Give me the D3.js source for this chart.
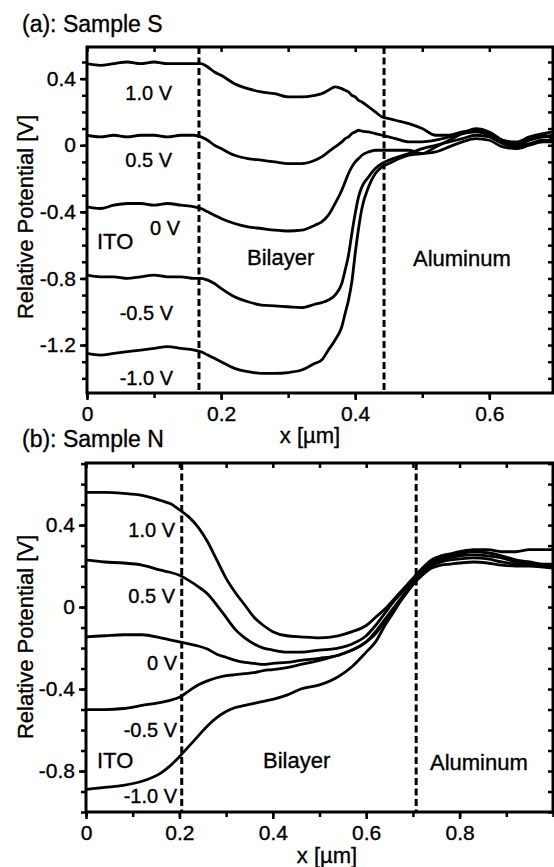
<!DOCTYPE html>
<html>
<head>
<meta charset="utf-8">
<script src="https://cdn.jsdelivr.net/npm/d3@7"></script>
<style>
  body { margin: 0; background: #fff; }
  svg { display: block; font-family: "Liberation Sans", Arial, sans-serif; }
  svg text { fill: #000; stroke: #000; stroke-width: 0.35; }
  .curve { fill: none; stroke: #000; stroke-width: 2.8; stroke-linejoin: round; }
  .divider { stroke: #000; stroke-width: 3; stroke-dasharray: 7,3.5; }
  .frame { fill: none; stroke: #000; stroke-width: 3; }
  .tick line { stroke: #000; stroke-width: 2.5; }
  .tick text { font-size: 21px; }
</style>
</head>
<body>
<svg id="chart" width="554" height="867"></svg>
<script>
// ---- data ----
const voltageLabels = ["1.0 V", "0.5 V", "0 V", "-0.5 V", "-1.0 V"];
const regionLabels = ["ITO", "Bilayer", "Aluminum"];

// (a) Sample S
const xSampleS = [0, 0.02, 0.04, 0.06, 0.08, 0.10, 0.12, 0.14, 0.16, 0.17, 0.18, 0.19, 0.20, 0.22, 0.24, 0.26, 0.28, 0.30, 0.32, 0.34, 0.35, 0.36, 0.37, 0.38, 0.385, 0.39, 0.395, 0.40, 0.405, 0.41, 0.42, 0.43, 0.44, 0.45, 0.46, 0.48, 0.50, 0.52, 0.54, 0.56, 0.58, 0.60, 0.62, 0.64, 0.66, 0.68, 0.695];
const sampleS_p10 = [0.49, 0.48, 0.49, 0.50, 0.49, 0.50, 0.49, 0.49, 0.49, 0.49, 0.47, 0.44, 0.42, 0.37, 0.34, 0.32, 0.31, 0.29, 0.29, 0.30, 0.31, 0.33, 0.35, 0.34, 0.33, 0.32, 0.30, 0.29, 0.27, 0.26, 0.23, 0.20, 0.17, 0.16, 0.15, 0.13, 0.10, 0.06, 0.06, 0.08, 0.09, 0.07, 0.03, 0.02, 0.05, 0.07, 0.08];
const sampleS_p05 = [0.06, 0.05, 0.06, 0.05, 0.06, 0.06, 0.05, 0.06, 0.06, 0.05, 0.03, 0.00, -0.02, -0.06, -0.08, -0.09, -0.10, -0.11, -0.11, -0.09, -0.07, -0.04, -0.01, 0.02, 0.04, 0.05, 0.07, 0.08, 0.09, 0.085, 0.08, 0.07, 0.06, 0.05, 0.04, 0.02, 0.02, 0.03, 0.05, 0.07, 0.08, 0.06, 0.02, 0.00, 0.03, 0.05, 0.06];
const sampleS_0 = [-0.37, -0.38, -0.36, -0.35, -0.35, -0.36, -0.35, -0.36, -0.37, -0.38, -0.40, -0.42, -0.44, -0.47, -0.49, -0.50, -0.51, -0.515, -0.51, -0.48, -0.46, -0.42, -0.35, -0.27, -0.22, -0.17, -0.13, -0.10, -0.08, -0.06, -0.04, -0.03, -0.03, -0.03, -0.03, -0.03, -0.05, -0.01, 0.03, 0.07, 0.10, 0.08, 0.03, 0.01, 0.04, 0.06, 0.04];
const sampleS_m05 = [-0.78, -0.79, -0.79, -0.80, -0.79, -0.78, -0.79, -0.79, -0.80, -0.80, -0.81, -0.83, -0.86, -0.91, -0.94, -0.96, -0.965, -0.97, -0.975, -0.955, -0.945, -0.93, -0.90, -0.83, -0.75, -0.66, -0.53, -0.41, -0.31, -0.25, -0.19, -0.14, -0.11, -0.09, -0.075, -0.05, -0.02, 0.00, 0.02, 0.04, 0.06, 0.05, 0.01, -0.01, 0.01, 0.03, 0.03];
const sampleS_m10 = [-1.25, -1.26, -1.25, -1.24, -1.23, -1.22, -1.21, -1.22, -1.23, -1.24, -1.26, -1.28, -1.30, -1.34, -1.36, -1.37, -1.37, -1.365, -1.35, -1.31, -1.29, -1.23, -1.17, -1.09, -1.01, -0.93, -0.82, -0.65, -0.50, -0.38, -0.25, -0.17, -0.13, -0.11, -0.09, -0.06, -0.05, -0.04, -0.01, 0.02, 0.04, 0.03, -0.01, -0.02, 0.00, 0.02, 0.02];
const xTicksS = [0, 0.2, 0.4, 0.6];
const yTicksS = [0.4, 0, -0.4, -0.8, -1.2];
const boundariesS = [0.167, 0.443];

// (b) Sample N
const xSampleN = [0, 0.04, 0.08, 0.12, 0.16, 0.18, 0.20, 0.22, 0.24, 0.26, 0.28, 0.30, 0.32, 0.34, 0.36, 0.38, 0.40, 0.43, 0.46, 0.50, 0.54, 0.57, 0.60, 0.62, 0.64, 0.66, 0.68, 0.70, 0.72, 0.74, 0.76, 0.78, 0.80, 0.83, 0.86, 0.89, 0.92, 0.95, 0.98, 1.0];
const sampleN_p10 = [0.56, 0.56, 0.555, 0.545, 0.52, 0.505, 0.475, 0.44, 0.39, 0.32, 0.23, 0.14, 0.07, 0.01, -0.05, -0.09, -0.12, -0.14, -0.145, -0.15, -0.14, -0.12, -0.09, -0.05, -0.01, 0.04, 0.09, 0.14, 0.19, 0.23, 0.25, 0.26, 0.27, 0.28, 0.28, 0.27, 0.27, 0.28, 0.28, 0.28];
const sampleN_p05 = [0.23, 0.22, 0.215, 0.205, 0.18, 0.17, 0.155, 0.13, 0.10, 0.065, 0.01, -0.05, -0.11, -0.15, -0.18, -0.20, -0.21, -0.22, -0.22, -0.21, -0.20, -0.18, -0.14, -0.09, -0.03, 0.03, 0.08, 0.13, 0.18, 0.22, 0.24, 0.25, 0.26, 0.27, 0.265, 0.25, 0.23, 0.22, 0.21, 0.21];
const sampleN_0 = [-0.145, -0.14, -0.135, -0.135, -0.15, -0.16, -0.17, -0.18, -0.19, -0.205, -0.23, -0.245, -0.26, -0.27, -0.275, -0.28, -0.275, -0.27, -0.26, -0.25, -0.235, -0.21, -0.17, -0.12, -0.06, 0.00, 0.06, 0.12, 0.17, 0.21, 0.23, 0.24, 0.25, 0.255, 0.25, 0.24, 0.22, 0.21, 0.205, 0.20];
const sampleN_m05 = [-0.50, -0.50, -0.495, -0.48, -0.465, -0.455, -0.44, -0.41, -0.38, -0.36, -0.345, -0.335, -0.33, -0.325, -0.32, -0.31, -0.305, -0.295, -0.28, -0.26, -0.235, -0.21, -0.17, -0.13, -0.07, -0.01, 0.05, 0.11, 0.16, 0.20, 0.22, 0.23, 0.235, 0.24, 0.235, 0.22, 0.21, 0.205, 0.20, 0.20];
const sampleN_m10 = [-0.89, -0.88, -0.87, -0.85, -0.81, -0.775, -0.73, -0.68, -0.63, -0.58, -0.54, -0.51, -0.49, -0.48, -0.47, -0.46, -0.45, -0.43, -0.40, -0.38, -0.34, -0.29, -0.22, -0.17, -0.09, -0.02, 0.05, 0.11, 0.155, 0.19, 0.205, 0.21, 0.215, 0.22, 0.215, 0.205, 0.20, 0.20, 0.195, 0.19];
const xTicksN = [0, 0.2, 0.4, 0.6, 0.8];
const yTicksN = [0.4, 0, -0.4, -0.8];
const boundariesN = [0.205, 0.707];

// ---- drawing ----
const svg = d3.select("#chart");
const fmt = d => d === 0 ? "0" : d.toFixed(1);

function drawPanel(p) {
    const x = d3.scaleLinear().domain(p.xDomain).range([p.left, p.right]);
    const y = d3.scaleLinear().domain(p.yDomain).range([p.bottom, p.top]);
    const g = svg.append("g");

    const minorX = d3.range(0, p.xDomain[1] + 1e-9, 0.1).map(v => +v.toFixed(2));
    const minorY = d3.range(Math.ceil(p.yDomain[0] * 10), Math.floor(p.yDomain[1] * 10) + 1).map(v => v / 10);

    // bottom axis: minor then major
    g.append("g").attr("transform", `translate(0,${p.bottom})`)
        .call(d3.axisBottom(x).tickValues(minorX).tickSize(5).tickFormat(""))
        .call(a => a.select(".domain").remove());
    g.append("g").attr("transform", `translate(0,${p.bottom})`)
        .call(d3.axisBottom(x).tickValues(p.xTicks).tickSize(7).tickPadding(6).tickFormat(fmt))
        .call(a => a.select(".domain").remove());
    // top axis, inward
    g.append("g").attr("transform", `translate(0,${p.top})`)
        .call(d3.axisTop(x).tickValues(minorX).tickSize(-5).tickFormat(""))
        .call(a => a.select(".domain").remove());
    // left axis: minor then major
    g.append("g").attr("transform", `translate(${p.left},0)`)
        .call(d3.axisLeft(y).tickValues(minorY).tickSize(5).tickFormat(""))
        .call(a => a.select(".domain").remove());
    g.append("g").attr("transform", `translate(${p.left},0)`)
        .call(d3.axisLeft(y).tickValues(p.yTicks).tickSize(7).tickPadding(4).tickFormat(fmt))
        .call(a => a.select(".domain").remove());
    // right axis, inward
    g.append("g").attr("transform", `translate(${p.right},0)`)
        .call(d3.axisRight(y).tickValues(minorY).tickSize(-5).tickFormat(""))
        .call(a => a.select(".domain").remove());

    // region boundaries
    g.selectAll(".divider").data(p.boundaries).join("line")
        .attr("class", "divider")
        .attr("x1", d => x(d)).attr("x2", d => x(d))
        .attr("y1", p.top).attr("y2", p.bottom);

    // curves
    const clipId = "clip" + p.id;
    svg.append("clipPath").attr("id", clipId).append("rect")
        .attr("x", p.left).attr("y", p.top)
        .attr("width", p.right - p.left).attr("height", p.bottom - p.top);
    const line = d3.line().x(d => x(d[0])).y(d => y(d[1])).curve(d3.curveMonotoneX);
    g.append("g").attr("clip-path", `url(#${clipId})`)
        .selectAll("path").data(p.series).join("path")
        .attr("class", "curve")
        .attr("d", s => line(p.xs.map((v, i) => [v, s[i]])));

    g.append("rect").attr("class", "frame")
        .attr("x", p.left).attr("y", p.top)
        .attr("width", p.right - p.left).attr("height", p.bottom - p.top);

    // voltage labels
    g.selectAll(".vlabel").data(voltageLabels).join("text")
        .attr("class", "vlabel")
        .attr("x", (d, i) => p.vLabelX[i]).attr("y", (d, i) => p.vLabelY[i])
        .attr("text-anchor", "end").attr("font-size", 20)
        .text(d => d);

    // region labels
    g.selectAll(".rlabel").data(regionLabels).join("text")
        .attr("class", "rlabel")
        .attr("x", (d, i) => p.rLabelX[i]).attr("y", (d, i) => p.rLabelY[i])
        .attr("font-size", 22)
        .text(d => d);

    // titles
    g.append("text").attr("x", 22).attr("y", p.titleY)
        .attr("font-size", 23).text(p.title);
    g.append("text").attr("x", p.xLabelX).attr("y", p.xLabelY)
        .attr("text-anchor", "middle").attr("font-size", 22).text("x [\u00b5m]");
    g.append("text")
        .attr("transform", `translate(33,${p.yLabelY}) rotate(-90)`)
        .attr("text-anchor", "middle").attr("font-size", 22)
        .text("Relative Potential [V]");
}

drawPanel({
    id: "S", title: "(a): Sample S",
    xs: xSampleS, series: [sampleS_p10, sampleS_p05, sampleS_0, sampleS_m05, sampleS_m10],
    xDomain: [0, 0.695], yDomain: [-1.488, 0.59],
    left: 87, right: 553, top: 47, bottom: 393,
    xTicks: xTicksS, yTicks: yTicksS, boundaries: boundariesS,
    vLabelX: [172, 172, 180, 173, 173], vLabelY: [100, 167, 235, 320, 385],
    rLabelX: [97, 247, 413], rLabelY: [249, 265, 266],
    titleY: 32, xLabelX: 310, xLabelY: 443, yLabelY: 217
});

drawPanel({
    id: "N", title: "(b): Sample N",
    xs: xSampleN, series: [sampleN_p10, sampleN_p05, sampleN_0, sampleN_m05, sampleN_m10],
    xDomain: [0, 1.0], yDomain: [-1.0, 0.703],
    left: 86, right: 553, top: 463, bottom: 812,
    xTicks: xTicksN, yTicks: yTicksN, boundaries: boundariesN,
    vLabelX: [175, 175, 177, 177, 177], vLabelY: [537, 603, 670, 737, 803],
    rLabelX: [97, 263, 430], rLabelY: [768, 768, 770],
    titleY: 447, xLabelX: 327, xLabelY: 863, yLabelY: 637
});
</script>
</body>
</html>
